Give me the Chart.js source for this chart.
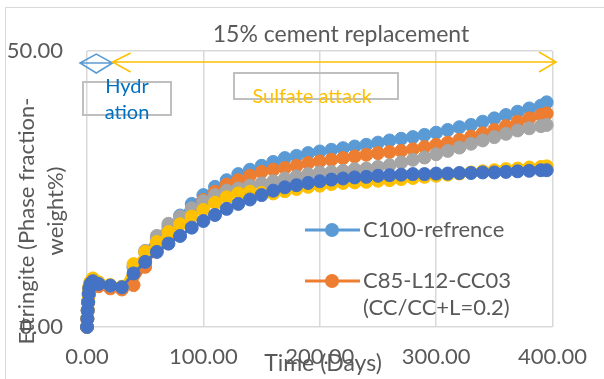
<!DOCTYPE html>
<html>
<head>
<meta charset="utf-8">
<script src="https://cdn.jsdelivr.net/npm/chart.js@4.4.1/dist/chart.umd.min.js"></script>
<style>
  html, body { margin: 0; padding: 0; background: #fff; }
</style>
</head>
<body>
<canvas id="chart" width="604" height="379"></canvas>
<script>
// time axis (days)
const days = [0, 0.3, 0.6, 1, 1.5, 2, 3, 5,
  10, 20, 30, 40, 50, 60, 70, 80, 90, 100,
  110, 120, 130, 140, 150, 160, 170, 180, 190, 200,
  210, 220, 230, 240, 250, 260, 270, 280, 290, 300,
  310, 320, 330, 340, 350, 360, 370, 380, 390, 395];

// ettringite phase fraction (weight%)
const refValues = [0, 1.5, 3.0, 4.5, 6.0, 7.0, 7.9, 8.5,
  7.9, 7.5, 7.2, 10.8, 13.5, 16.0, 18.2, 20.2, 22.3, 23.9,
  25.4, 26.6, 27.7, 28.5, 29.2, 29.9, 30.6, 31.0, 31.5, 31.8,
  32.1, 32.4, 32.7, 33.0, 33.4, 33.8, 34.1, 34.4, 34.8, 35.2,
  35.7, 36.2, 36.6, 37.2, 37.8, 38.4, 39.0, 39.6, 40.1, 40.7];
const cc03Values = [0, 1.4, 2.9, 4.4, 5.8, 6.8, 7.6, 8.2,
  7.4, 7.0, 6.8, 7.6, 10.9, 14.0, 16.5, 18.8, 21.0, 23.0,
  24.5, 25.8, 26.6, 27.4, 28.1, 28.5, 28.8, 29.2, 29.7, 30.0,
  30.3, 30.6, 30.9, 31.2, 31.5, 31.7, 31.9, 32.2, 32.6, 33.0,
  33.4, 33.9, 34.5, 35.1, 35.7, 36.4, 37.2, 37.8, 38.4, 38.7];
const grayValues = [0, 1.5, 3.1, 4.6, 6.1, 7.1, 8.0, 8.6,
  7.9, 7.5, 7.2, 11.0, 13.8, 16.5, 18.7, 20.0, 21.5, 22.8,
  23.9, 24.7, 25.1, 25.6, 26.0, 26.4, 26.9, 27.3, 27.7, 28.0,
  28.1, 28.3, 28.6, 28.7, 29.0, 29.3, 29.8, 30.3, 30.7, 31.3,
  31.9, 32.5, 33.2, 33.8, 34.4, 35.0, 35.6, 36.0, 36.4, 36.6];
const yellowValues = [0, 1.6, 3.2, 4.8, 6.3, 7.3, 8.2, 8.8,
  8.1, 7.6, 7.3, 11.4, 13.6, 15.4, 17.2, 18.6, 20.0, 21.2,
  22.5, 23.5, 24.2, 24.5, 24.3, 24.2, 24.6, 25.0, 25.4, 25.6,
  25.9, 26.1, 26.2, 26.3, 26.5, 26.6, 26.8, 27.0, 27.2, 27.4,
  27.6, 27.8, 28.0, 28.2, 28.4, 28.6, 28.7, 28.9, 29.0, 29.1];
const blueValues = [0, 1.5, 3.0, 4.5, 6.0, 7.0, 7.8, 8.3,
  7.8, 7.5, 7.2, 9.7, 11.8, 13.6, 15.1, 16.5, 18.0, 19.2,
  20.3, 21.4, 22.3, 23.1, 23.9, 24.7, 25.3, 25.7, 26.1, 26.4,
  26.7, 26.9, 27.1, 27.2, 27.4, 27.5, 27.6, 27.7, 27.7, 27.8,
  27.8, 27.9, 27.9, 28.0, 28.0, 28.1, 28.2, 28.3, 28.4, 28.4];

const seriesNames = ['C100-refrence', 'C85-L12-CC03 (CC/CC+L=0.2)', 'series 3', 'series 4', 'series 5'];
const seriesColors = ['#5B9BD5', '#ED7D31', '#A5A5A5', '#FFC000', '#4472C4'];
const seriesValues = [refValues, cc03Values, grayValues, yellowValues, blueValues];

const xTicks = [0, 100, 200, 300, 400];
const yTicks = [0, 50];

const FONT = 'Lato';
const TEXT = '#595959';

function toPoints(vals) {
  return vals.map((v, i) => ({ x: days[i], y: v }));
}

// draws the title, the phase arrows/boxes, axis titles and the 2-entry legend
const overlay = {
  id: 'overlay',
  afterDraw(chart) {
    const ctx = chart.ctx;
    const xs = chart.scales.x;
    ctx.save();

    // outer chart border
    ctx.strokeStyle = '#D9D9D9';
    ctx.lineWidth = 1;
    ctx.strokeRect(5.5, 7.5, 700, 400);

    // title
    ctx.fillStyle = TEXT;
    ctx.font = '23px ' + FONT;
    ctx.textAlign = 'center';
    ctx.textBaseline = 'middle';
    ctx.fillText('15% cement replacement', 341, 35);

    // hydration span (blue diamond)
    const hx0 = xs.getPixelForValue(-6), hx1 = xs.getPixelForValue(22), hy = 63;
    const hm = (hx0 + hx1) / 2;
    ctx.strokeStyle = '#5B9BD5';
    ctx.lineWidth = 1.5;
    ctx.beginPath();
    ctx.moveTo(hx0, hy); ctx.lineTo(hm, hy - 9); ctx.lineTo(hx1, hy); ctx.lineTo(hm, hy + 10); ctx.closePath();
    ctx.moveTo(hx0, hy); ctx.lineTo(hx1, hy);
    ctx.stroke();

    // sulfate attack span (yellow double arrow)
    const sx0 = hx1, sx1 = xs.getPixelForValue(403), sy = 62;
    ctx.strokeStyle = '#FFC000';
    ctx.beginPath();
    ctx.moveTo(sx0, sy); ctx.lineTo(sx1, sy);
    ctx.moveTo(sx0 + 18, sy - 9); ctx.lineTo(sx0, sy); ctx.lineTo(sx0 + 18, sy + 10);
    ctx.moveTo(sx1 - 17, sy - 10); ctx.lineTo(sx1, sy); ctx.lineTo(sx1 - 17, sy + 10);
    ctx.stroke();

    // label boxes
    ctx.strokeStyle = '#BFBFBF';
    ctx.lineWidth = 2;
    ctx.strokeRect(83, 82, 88, 33);
    ctx.strokeRect(234, 73, 164, 26);

    ctx.font = '20px ' + FONT;
    ctx.fillStyle = '#0070C0';
    ctx.fillText('Hydr', 127, 87);
    ctx.fillText('ation', 127, 113);
    ctx.fillStyle = '#FFC000';
    ctx.fillText('Sulfate attack', 312, 97);

    // legend (first two series only, as in the source)
    ctx.font = '22px ' + FONT;
    ctx.textAlign = 'left';
    const legend = [
      { i: 0, y: 230, lines: ['C100-refrence'] },
      { i: 1, y: 281, lines: ['C85-L12-CC03', '(CC/CC+L=0.2)'] }
    ];
    legend.forEach(e => {
      const c = seriesColors[e.i];
      ctx.strokeStyle = c;
      ctx.lineWidth = 3;
      ctx.beginPath(); ctx.moveTo(305, e.y); ctx.lineTo(360, e.y); ctx.stroke();
      ctx.fillStyle = c;
      ctx.beginPath(); ctx.arc(332, e.y, 7, 0, Math.PI * 2); ctx.fill();
      ctx.fillStyle = TEXT;
      e.lines.forEach((t, k) => ctx.fillText(t, 363, e.y + k * 27));
    });

    // axis titles
    ctx.textAlign = 'center';
    ctx.font = '23px ' + FONT;
    ctx.fillText('Time (Days)', 323, 364);
    ctx.font = '22px ' + FONT;
    ctx.translate(27, 221);
    ctx.rotate(-Math.PI / 2);
    ctx.fillText('Ettringite (Phase fraction-', 0, 0);
    ctx.fillText('weight%)', 10, 29);
    ctx.restore();
  }
};

new Chart(document.getElementById('chart'), {
  type: 'line',
  data: {
    datasets: seriesNames.map((name, i) => ({
      label: name,
      data: toPoints(seriesValues[i]),
      borderColor: seriesColors[i],
      backgroundColor: seriesColors[i],
      borderWidth: 3,
      pointRadius: 6.5,
      pointBorderWidth: 1,
      pointBorderColor: seriesColors[i],
      pointBackgroundColor: seriesColors[i],
      tension: 0,
      clip: false,
      order: 5 - i
    }))
  },
  options: {
    responsive: false,
    animation: false,
    layout: { padding: { top: 51, right: 45, left: 0, bottom: 0 } },
    plugins: { legend: { display: false }, tooltip: { enabled: false } },
    scales: {
      x: {
        type: 'linear', min: 0, max: 400,
        afterBuildTicks: s => { s.ticks = xTicks.map(v => ({ value: v })); },
        ticks: { callback: v => v.toFixed(2), color: TEXT, font: { family: FONT, size: 22 }, padding: 17, maxRotation: 0 },
        grid: { color: '#D9D9D9', lineWidth: 1.5, drawTicks: false },
        border: { display: false },
        afterFit: s => { s.height = 52; }
      },
      y: {
        min: 0, max: 50,
        afterBuildTicks: s => { s.ticks = yTicks.map(v => ({ value: v })); },
        ticks: { callback: v => v.toFixed(2), color: TEXT, font: { family: FONT, size: 22 }, padding: 24 },
        grid: { color: '#D9D9D9', lineWidth: 1.5, drawTicks: false },
        border: { display: false },
        afterFit: s => { s.width = 87; }
      }
    }
  },
  plugins: [overlay]
});
</script>
</body>
</html>
